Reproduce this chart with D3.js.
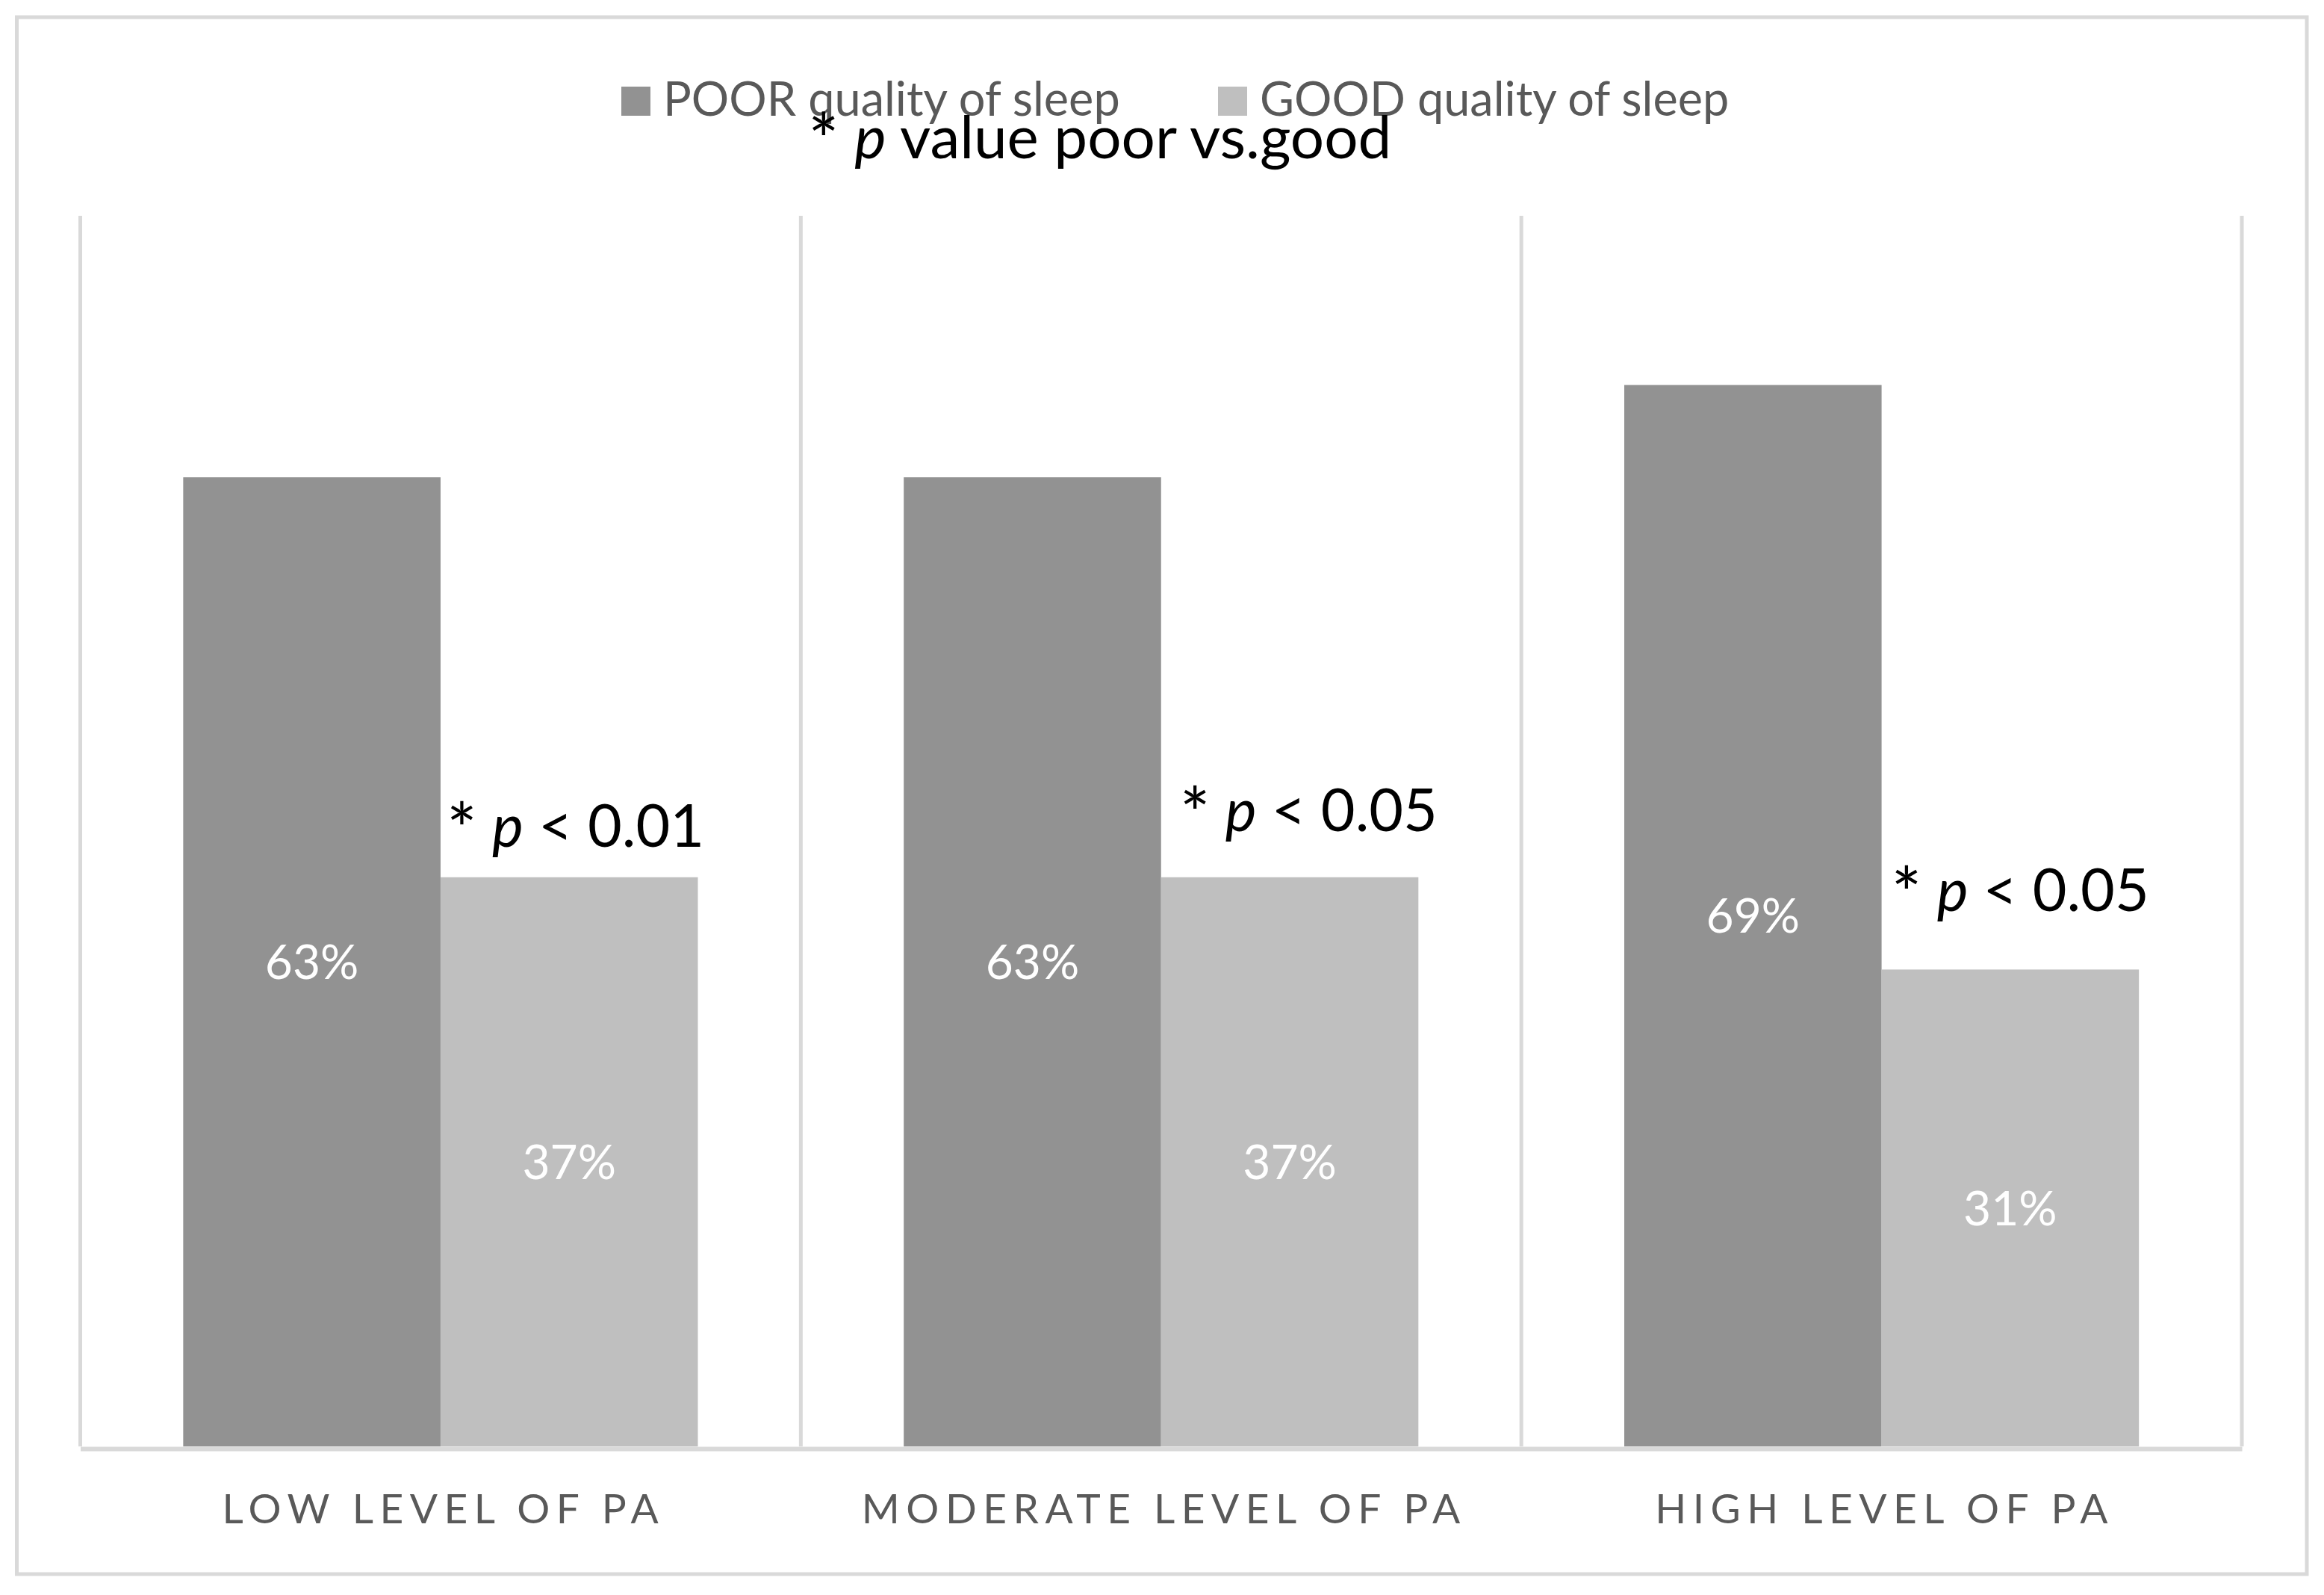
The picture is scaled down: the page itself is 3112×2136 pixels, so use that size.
<!DOCTYPE html>
<html>
<head>
<meta charset="utf-8">
<script src="https://cdn.jsdelivr.net/npm/d3@7"></script>
<style>
  body { margin: 0; background: #fff; }
  text { font-family: Lato, "Open Sans", sans-serif; }
</style>
</head>
<body>
<div id="chart"></div>
<script>
// Data
var categories = ["LOW LEVEL OF PA", "MODERATE LEVEL OF PA", "HIGH LEVEL OF PA"]
var seriesNames = ["POOR quality of sleep", "GOOD quality of sleep"]
var poorValues = [63, 63, 69]
var goodValues = [37, 37, 31]
var pValues = ["0.01", "0.05", "0.05"]
// height (in % units) of each p annotation baseline
var pLabelAt = [39, 40, 34.8]
var pLabelShift = [8, 25, 13]

var svgWidth = 3112
var svgHeight = 2136
var colors = ["#929292", "#bfbfbf"]

var svg = d3.select("#chart")
  .append("svg")
  .attr("width", svgWidth)
  .attr("height", svgHeight)

svg.append("rect")
  .attr("width", svgWidth)
  .attr("height", svgHeight)
  .attr("fill", "#fff")

// outer chart border
svg.append("rect")
  .attr("x", 22.5)
  .attr("y", 23)
  .attr("width", 3066.5)
  .attr("height", 2085)
  .attr("fill", "none")
  .attr("stroke", "#d9d9d9")
  .attr("stroke-width", 5)

var plot = { left: 107.5, right: 3002, top: 289, bottom: 1937 }

var xScale = d3.scaleBand()
  .domain(categories)
  .range([plot.left, plot.right])
  .padding(0)

var xInner = d3.scaleBand()
  .domain(seriesNames)
  .range([0, xScale.bandwidth()])
  .paddingInner(0)
  .paddingOuter(0.4)

var yScale = d3.scaleLinear()
  .domain([0, 80])
  .range([plot.bottom, plot.top])

// vertical separators between categories
var bounds = categories.map(d => xScale(d)).concat([plot.right])
svg.append("g").selectAll("line")
  .data(bounds)
  .enter()
  .append("line")
  .attr("x1", d => d)
  .attr("x2", d => d)
  .attr("y1", plot.top)
  .attr("y2", plot.bottom)
  .attr("stroke", "#d9d9d9")
  .attr("stroke-width", 5)

var rows = categories.map(function(c, i) {
  return { cat: c, values: [poorValues[i], goodValues[i]] }
})

var groups = svg.append("g").selectAll("g")
  .data(rows)
  .enter()
  .append("g")
  .attr("transform", d => `translate(${xScale(d.cat)},0)`)

groups.selectAll("rect")
  .data(d => d.values.map((v, j) => ({ name: seriesNames[j], value: v, j: j })))
  .enter()
  .append("rect")
  .attr("x", d => xInner(d.name))
  .attr("y", d => yScale(d.value))
  .attr("width", xInner.bandwidth())
  .attr("height", d => yScale(0) - yScale(d.value))
  .attr("fill", d => colors[d.j])

// data labels, white, centred in bars
groups.selectAll("text.val")
  .data(d => d.values.map((v, j) => ({ name: seriesNames[j], value: v })))
  .enter()
  .append("text")
  .attr("class", "val")
  .attr("x", d => xInner(d.name) + xInner.bandwidth() / 2)
  .attr("y", d => (yScale(d.value) + yScale(0)) / 2)
  .attr("dy", "0.36em")
  .attr("text-anchor", "middle")
  .attr("fill", "#fff")
  .style("font-size", "64px")
  .text(d => d.value + "%")

// x axis
var bottomAxis = d3.axisBottom(xScale).tickSize(0).tickSizeOuter(0)
var xAxis = svg.append("g")
  .attr("transform", `translate(0, ${plot.bottom + 3})`)
  .call(bottomAxis)

xAxis.select(".domain")
  .attr("stroke", "#d9d9d9")
  .attr("stroke-width", 6)

xAxis.selectAll("text")
  .attr("y", 100)
  .attr("dy", 0)
  .attr("dx", "4px")
  .attr("fill", "#595959")
  .style("font-size", "55px")
  .style("letter-spacing", "8.5px")
  .style("font-family", "Lato, sans-serif")

// "* p ..." text with a larger asterisk
function starText(sel, size, rest) {
  var shift = Math.round(size * 0.15)
  sel.append("tspan")
    .style("font-size", Math.round(size * 1.22) + "px")
    .attr("dy", shift)
    .text("*")
  sel.append("tspan").attr("dy", -shift).text(" ")
  sel.append("tspan").style("font-style", "italic").text("p")
  sel.append("tspan").text(rest)
}

// p-value annotations
var pGroup = svg.append("g")
pValues.forEach(function(p, i) {
  var t = pGroup.append("text")
    .attr("x", xScale(categories[i]) + xInner(seriesNames[1]) + pLabelShift[i])
    .attr("y", yScale(pLabelAt[i]))
    .attr("fill", "#000")
    .style("font-size", "79px")
  starText(t, 79, " < " + p)
})

// legend
var legendX = [832, 1631]
var legend = svg.append("g")
seriesNames.forEach(function(name, i) {
  legend.append("rect")
    .attr("x", legendX[i])
    .attr("y", 116)
    .attr("width", 39)
    .attr("height", 39)
    .attr("fill", colors[i])
  legend.append("text")
    .attr("x", legendX[i] + 56)
    .attr("y", 155)
    .attr("fill", "#595959")
    .style("font-size", "63px")
    .text(name)
})

// title
var title = svg.append("text")
  .attr("x", 1082)
  .attr("y", 212)
  .attr("fill", "#000")
  .style("font-size", "80px")
starText(title, 80, " value poor vs.good")
</script>
</body>
</html>
